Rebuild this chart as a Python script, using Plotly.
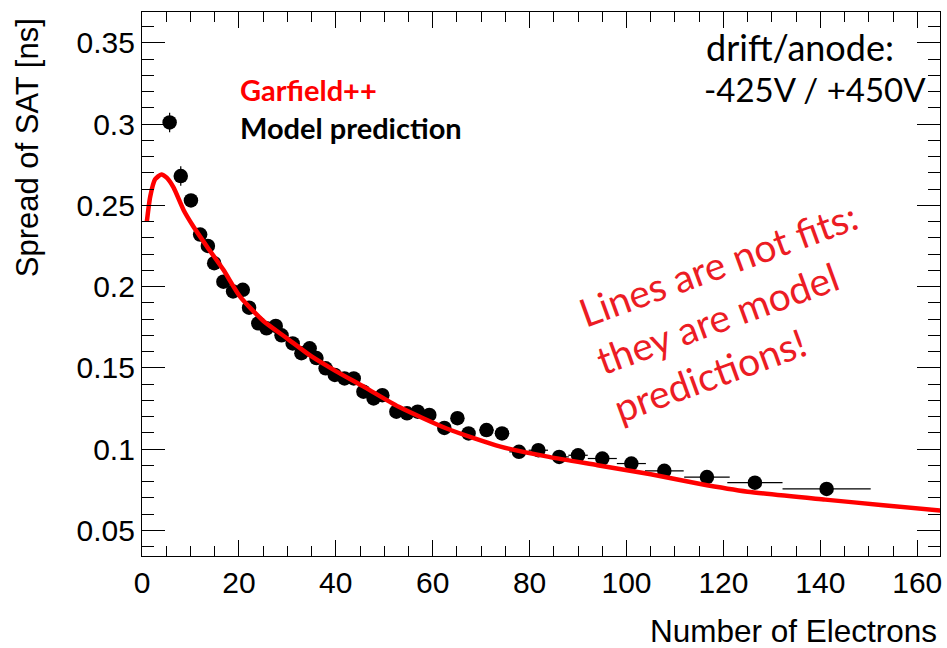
import plotly.graph_objects as go

# ---- data ----
n_electrons = [5.7, 8.0, 10.1, 12.0, 13.6, 14.9, 16.8, 18.8, 20.8, 22.1, 24.0, 25.7, 27.6, 28.8,
               31.1, 32.9, 34.6, 36.0, 37.9, 39.8, 41.8, 43.7, 45.7, 47.8, 49.6, 52.5, 54.7,
               56.9, 59.3, 62.4, 65.1, 67.4, 71.1, 74.3, 77.8, 81.8, 86.1, 90.0, 95.0, 101.0,
               107.8, 116.6, 126.5, 141.3]
sat_spread = [0.301, 0.268, 0.253, 0.232, 0.225, 0.2144, 0.203, 0.197, 0.198, 0.187, 0.1774,
              0.1743, 0.1758, 0.170, 0.165, 0.159, 0.162, 0.156, 0.1497, 0.1456, 0.1435, 0.1435,
              0.1353, 0.1312, 0.1332, 0.123, 0.122, 0.123, 0.121, 0.113, 0.119, 0.1096, 0.1117,
              0.1096, 0.0983, 0.0993, 0.0952, 0.0962, 0.0942, 0.0911, 0.0866, 0.0828, 0.0793,
              0.0755]
x_err = [1.0] * 32 + [1.5, 1.5, 2.0, 2.0, 2.0, 2.0, 3.0, 3.0, 4.0, 4.7, 5.7, 9.1]
y_err = [0.006, 0.006] + [0.003] * 42

model_x = [1.0, 1.7, 2.7, 4.0, 5.1, 6.5, 8.6, 10.6, 13.4, 16.8, 20.2, 25, 30, 35, 40, 46, 53,
           63, 74, 84, 94, 105, 115, 125, 141, 153, 165]
model_y = [0.240, 0.2555, 0.266, 0.269, 0.267, 0.261, 0.247, 0.237, 0.2247, 0.2103, 0.194,
           0.179, 0.168, 0.157, 0.148, 0.138, 0.126, 0.1125, 0.1015, 0.0952, 0.0901, 0.0845,
           0.0787, 0.0738, 0.0689, 0.0655, 0.0621]

x_range = [0, 164.7]
y_range = [0.0342, 0.369]
x_title = "Number of Electrons"
y_title = "Spread of SAT [ns]"

# ---- figure ----
W, H = 947, 648
L, R, T, B = 142, 5, 12, 92
PW, PH = W - L - R, H - T - B


def px(xp):
    return (xp - L) / PW


def py(yp):
    return 1 - (yp - T) / PH


fig = go.Figure()
fig.add_trace(go.Scatter(
    x=n_electrons, y=sat_spread, mode="markers",
    marker=dict(symbol="circle", size=14.5, color="black"),
    error_x=dict(type="data", array=x_err, thickness=1.2, width=0, color="black"),
    error_y=dict(type="data", array=y_err, thickness=1.2, width=0, color="black"),
    showlegend=False, hoverinfo="x+y"))
fig.add_trace(go.Scatter(
    x=model_x, y=model_y, mode="lines",
    line=dict(color="#ff0000", width=4.5, shape="spline", smoothing=0.6),
    showlegend=False))

axis_font = dict(family="Liberation Sans, Arial, sans-serif", size=30, color="black")
fig.update_xaxes(range=x_range, dtick=20, tick0=0, ticks="inside", ticklen=16, tickwidth=1,
                 tickcolor="black", showline=True, linecolor="black", linewidth=1.3,
                 mirror="allticks", showgrid=False, zeroline=False, tickfont=axis_font,
                 minor=dict(dtick=5, ticks="inside", ticklen=10, tickcolor="black",
                            tickwidth=1, showgrid=False))
fig.update_yaxes(range=y_range, dtick=0.05, tick0=0, ticks="inside", ticklen=23, tickwidth=1,
                 tickcolor="black", showline=True, linecolor="black", linewidth=1.3,
                 mirror="allticks", showgrid=False, zeroline=False, tickfont=axis_font,
                 tickformat="~g",
                 minor=dict(dtick=0.01, ticks="inside", ticklen=12, tickcolor="black",
                            tickwidth=1, showgrid=False))

annots = [
    dict(text=x_title, x=px(941), y=py(631), xanchor="right", yanchor="middle",
         font=dict(family="Liberation Sans, Arial", size=31.5, color="black")),
    dict(text=y_title, x=px(27), y=py(148), xanchor="center", yanchor="middle", textangle=-90,
         font=dict(family="Liberation Sans, Arial", size=31, color="black")),
    dict(text="<b>Garfield++</b>", x=px(238), y=py(90), xanchor="left", yanchor="middle",
         font=dict(family="Lato, sans-serif", size=29, color="#ff0000")),
    dict(text="<b>Model prediction</b>", x=px(238), y=py(127), xanchor="left", yanchor="middle",
         font=dict(family="Lato, sans-serif", size=29, color="black")),
    dict(text="drift/anode:", x=px(705), y=py(47), xanchor="left", yanchor="middle",
         font=dict(family="Lato, sans-serif", size=36, color="black")),
    dict(text="-425V / +450V", x=px(703), y=py(89), xanchor="left", yanchor="middle",
         font=dict(family="Lato, sans-serif", size=33, color="black")),
    dict(text="Lines are not fits:<br>they are model<br>predictions!", x=px(736), y=py(311),
         xanchor="center", yanchor="middle", textangle=-20, align="left",
         font=dict(family="Lato, sans-serif", size=39, color="#ec1c24")),
]
for a in annots:
    a.update(xref="paper", yref="paper", showarrow=False)
fig.update_layout(annotations=annots)

fig.update_layout(width=W, height=H, margin=dict(l=L, r=R, t=T, b=B),
                  plot_bgcolor="white", paper_bgcolor="white", showlegend=False)

fig.write_html("out.html", config={"displayModeBar": False},
               post_script="document.body.style.margin='0';document.body.style.overflow='hidden';")
